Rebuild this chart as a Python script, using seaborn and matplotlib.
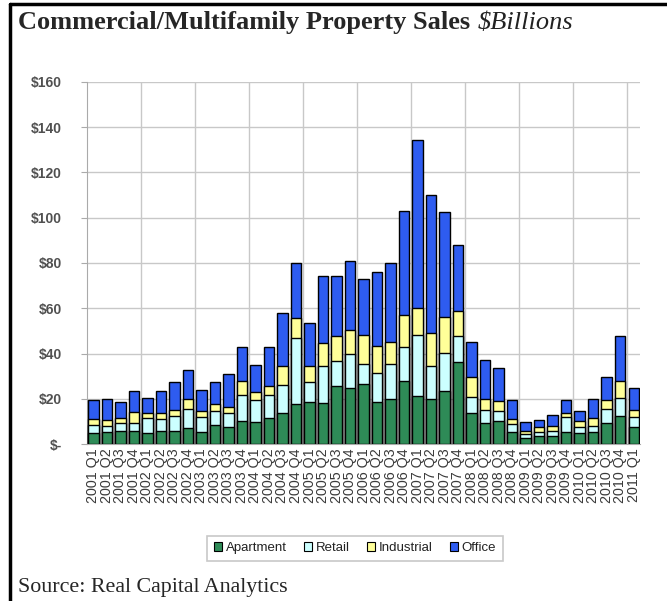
import matplotlib
matplotlib.use("Agg")
import matplotlib.pyplot as plt
import matplotlib.patches as mpatches
from matplotlib.lines import Line2D
import numpy as np
import pandas as pd
import seaborn as sns

years = list(range(2001, 2012))
quarters = [f"{y} Q{q}" for y in years for q in (1, 2, 3, 4)][:41]

apartment = [4.7, 5.5, 5.8, 5.8, 5.0, 5.9, 5.9, 7.0, 5.5, 8.4, 7.4, 10.4, 9.6, 11.4,
             13.6, 17.6, 18.4, 18.1, 25.8, 25.0, 26.7, 18.4, 19.9, 28.0, 21.3, 19.9,
             23.3, 36.1, 13.6, 9.5, 10.4, 5.2, 2.5, 3.6, 3.6, 5.2, 4.7, 5.2, 9.5, 12.4, 7.4]
retail = [3.7, 2.5, 3.7, 3.7, 6.4, 5.2, 6.5, 8.4, 6.6, 6.4, 6.5, 11.4, 10.0, 10.4,
          12.6, 29.4, 8.9, 16.3, 11.1, 14.6, 8.9, 13.0, 15.7, 15.0, 26.7, 14.8,
          17.0, 11.6, 7.0, 5.6, 4.3, 3.5, 1.9, 1.9, 2.3, 6.7, 3.0, 2.9, 5.9, 7.9, 4.7]
industrial = [2.7, 2.7, 1.9, 4.9, 2.2, 2.5, 2.7, 4.5, 2.7, 3.0, 2.7, 5.9, 3.2, 4.0,
              8.2, 8.9, 7.4, 10.3, 10.8, 10.6, 12.4, 11.9, 9.4, 13.9, 12.3, 14.5,
              15.8, 11.1, 8.9, 4.8, 4.4, 2.4, 1.5, 1.9, 2.1, 2.0, 2.5, 3.3, 4.2, 7.4, 3.0]
office = [8.2, 9.2, 7.4, 8.9, 6.7, 10.0, 12.2, 13.0, 9.2, 9.5, 14.5, 15.3, 12.3, 17.2,
          23.4, 24.1, 18.9, 29.4, 26.7, 30.8, 24.9, 32.6, 35.0, 46.2, 74.1, 61.0,
          46.4, 29.2, 15.5, 17.4, 14.5, 8.2, 4.0, 3.3, 4.9, 5.4, 4.5, 8.5, 10.0, 20.0, 9.6]

series_names = ["Apartment", "Retail", "Industrial", "Office"]
colors = ["#2E8B57", "#CCFFFF", "#FFFF99", "#2E5CF0"]
y_ticks = [0, 20, 40, 60, 80, 100, 120, 140, 160]
y_labels = ["$-" if v == 0 else f"${v}" for v in y_ticks]

df = pd.DataFrame({"quarter": quarters, "Apartment": apartment, "Retail": retail,
                   "Industrial": industrial, "Office": office})
cum = df[series_names].cumsum(axis=1)

sns.set_style("white")
plt.rcParams["font.family"] = ["Liberation Sans", "DejaVu Sans"]

fig = plt.figure(figsize=(6.67, 6.01), dpi=100)
ax = fig.add_axes([0.130, 0.261, 0.830, 0.603])

# stacked bars: draw cumulative totals from top layer down
for name, col in reversed(list(zip(series_names, colors))):
    sns.barplot(x=df["quarter"], y=cum[name], color=col, saturation=1,
                edgecolor="black", linewidth=1.0, width=0.75, ax=ax, zorder=3)

ax.set_ylim(0, 160)
ax.set_xlim(-0.5, len(quarters) - 0.5)
ax.set_yticks(y_ticks)
ax.set_yticklabels(y_labels, fontsize=10, color="#505050", fontweight="bold")
ax.set_xticks(range(len(quarters)))
ax.set_xticklabels(quarters, rotation=90, fontsize=10.3, color="#3a3a3a")
ax.set_xlabel("")
ax.set_ylabel("")

# gridlines
ax.set_xticks(np.arange(3.5, len(quarters), 4), minor=True)
ax.grid(True, axis="y", which="major", color="#c8c8c8", linewidth=1.0, zorder=0)
ax.grid(True, axis="x", which="minor", color="#c8c8c8", linewidth=1.0, zorder=0)
ax.grid(False, axis="x", which="major")
ax.tick_params(axis="x", which="major", length=0, pad=3)
ax.tick_params(axis="x", which="minor", length=3, color="#d0a0a0")
ax.tick_params(axis="y", which="major", length=4, color="#aaaaaa", pad=14, left=True)
for s in ["top", "right"]:
    ax.spines[s].set_visible(False)
ax.spines["left"].set_color("#aaaaaa")
ax.spines["bottom"].set_color("#aaaaaa")

handles = [mpatches.Patch(facecolor=c, edgecolor="black", linewidth=0.8, label=n)
           for n, c in zip(series_names, colors)]
leg = fig.legend(handles=handles, loc="center", bbox_to_anchor=(0.532, 0.088), ncol=4,
                 fontsize=9.5, frameon=True, fancybox=False, shadow=False,
                 handlelength=0.6, handleheight=0.6, handletextpad=0.3, columnspacing=1.3,
                 borderpad=0.5)
leg.get_frame().set_edgecolor("#bbbbbb")
leg.get_frame().set_linewidth(1.2)
for t in leg.get_texts():
    t.set_color("#222222")

title = fig.text(0.027, 0.962, "Commercial/Multifamily Property Sales", fontsize=19,
                 fontweight="bold", family="Liberation Serif", va="center", ha="left")
fig.canvas.draw()
bb = title.get_window_extent(renderer=fig.canvas.get_renderer())
x_after = (bb.x1 + 8) / fig.bbox.width
fig.text(x_after, 0.962, "$Billions", fontsize=19, style="italic",
         family="Liberation Serif", va="center", ha="left", color="#222222")
fig.text(0.027, 0.022, "Source: Real Capital Analytics", fontsize=15.8,
         family="Liberation Serif", va="center", ha="left")

fig.add_artist(Line2D([0.015, 0.015], [0, 0.993], transform=fig.transFigure,
                      color="black", linewidth=2.5))
fig.add_artist(Line2D([0.015, 1.0], [0.993, 0.993], transform=fig.transFigure,
                      color="black", linewidth=2.5))

fig.savefig("out.png", dpi=100)
